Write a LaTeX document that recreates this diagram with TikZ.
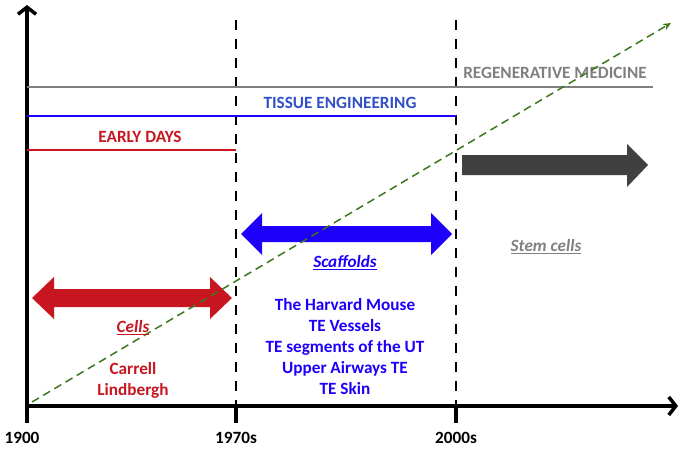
\documentclass[tikz,border=0pt]{standalone}
\usepackage{fontspec}
\setmainfont{Carlito}
\usetikzlibrary{arrows.meta,positioning}

\definecolor{cellred}{RGB}{200,22,32}
\definecolor{teblue}{RGB}{30,0,250}
\definecolor{tetext}{RGB}{50,80,200}
\definecolor{regray}{RGB}{128,128,128}
\definecolor{stemgray}{RGB}{64,64,64}
\definecolor{trendgreen}{RGB}{60,120,30}

\begin{document}
\begin{tikzpicture}[x=1pt,y=-1pt,
  every node/.style={font=\bfseries\fontsize{17.2}{21}\selectfont,inner sep=0pt},
  axisline/.style={line width=3.5pt,black},
  eraline/.style={line width=2pt},
  boundary/.style={line width=2.8pt,dash pattern=on 10pt off 9pt},
  trend/.style={trendgreen,line width=1.5pt,dash pattern=on 8pt off 5pt,-{Stealth[length=8pt,width=7pt]}},
]
\useasboundingbox (0,0) rectangle (684,449);

%axes and ticks
\coordinate (origin) at (27,406);
\coordinate (ytop) at (27,5);
\coordinate (xend) at (678,406);
\coordinate (t1900) at (27,423);
\coordinate (c1970) at (236,406);
\coordinate (t1970) at (236,423);
\coordinate (c2000) at (456,406);
\coordinate (t2000) at (456,423);
\coordinate (b1970) at (236,20);
\coordinate (b2000) at (456,20);

\draw[axisline,-{Straight Barb[length=7pt,width=18pt]}] (t1900) -- (ytop);
\draw[axisline,-{Straight Barb[length=7pt,width=18pt]}] (origin) -- (xend);
\draw[axisline] (c1970) -- (t1970);
\draw[axisline] (c2000) -- (t2000);
\draw[boundary] (b1970) -- (c1970);
\draw[boundary] (b2000) -- (c2000);

%year labels
\node (y1900) at (22,438) {1900};
\node (y1970) at (236,438) {1970s};
\node (y2000) at (456,438) {2000s};

%era lines
\coordinate (rm0) at (27,87);
\coordinate (rm1) at (653,87);
\coordinate (te0) at (27,116);
\coordinate (te1) at (456,116);
\coordinate (ed0) at (27,150);
\coordinate (ed1) at (236,150);
\draw[eraline,regray] (rm0) -- (rm1);
\draw[eraline,teblue] (te0) -- (te1);
\draw[eraline,cellred] (ed0) -- (ed1);
\node[regray] (rmtext) at (555,73) {REGENERATIVE MEDICINE};
\node[tetext] (tetext) at (340,103) {TISSUE ENGINEERING};
\node[cellred] (edtext) at (140,137) {EARLY DAYS};

%trend line
\coordinate (g0) at (32,402);
\coordinate (g1) at (671,23);

%period arrows
\fill[cellred] (32,298) -- (54,277) -- (54,289) -- (210,289) -- (210,277)
  -- (232,298) -- (210,319) -- (210,307) -- (54,307) -- (54,319) -- cycle;
\fill[teblue] (241,234) -- (262,213) -- (262,226) -- (431,226) -- (431,213)
  -- (452,234) -- (431,255) -- (431,242) -- (262,242) -- (262,255) -- cycle;
\fill[stemgray] (462,155) -- (627,155) -- (627,144) -- (648,165)
  -- (627,187) -- (627,175) -- (462,175) -- cycle;

\draw[trend] (g0) -- (g1);

%period labels
\node[cellred] (cells) at (133,328) {\underline{\textit{Cells}}};
\node[cellred,align=center] (cellnames) at (133,380) {Carrell\\Lindbergh};
\node[teblue] (scaffolds) at (345,263) {\underline{\textit{Scaffolds}}};
\node[teblue,align=center] (scafnames) at (345,347)
  {The Harvard Mouse\\TE Vessels\\TE segments of the UT\\Upper Airways TE\\TE Skin};
\node[regray] (stem) at (546,247) {\underline{\textit{Stem cells}}};

\end{tikzpicture}
\end{document}
